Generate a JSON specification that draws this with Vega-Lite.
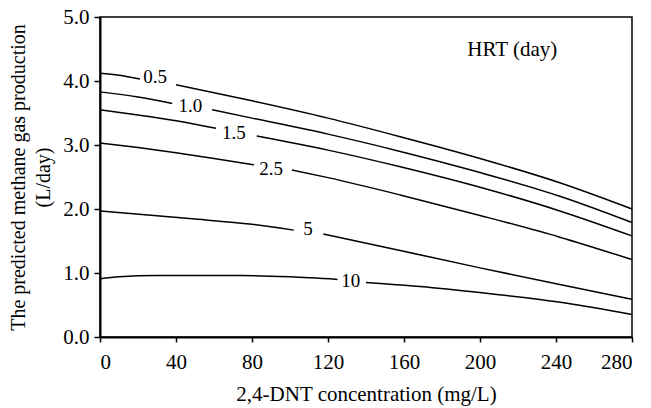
{
  "$schema": "https://vega.github.io/schema/vega-lite/v6.json",
  "width": 532,
  "height": 320,
  "autosize": "none",
  "padding": {"left": 100, "top": 17, "right": 19, "bottom": 71},
  "background": "white",
  "config": {
    "font": "Liberation Serif",
    "view": {"stroke": "black", "strokeWidth": 1.5},
    "axis": {
      "domainColor": "black", "domainWidth": 2, "tickColor": "black", "tickWidth": 1.5,
      "labelColor": "black", "titleColor": "black", "labelFont": "Liberation Serif",
      "titleFont": "Liberation Serif", "labelFontSize": 21, "titleFontSize": 21,
      "titleFontWeight": "normal", "grid": false
    }
  },
  "datasets": {
    "curves": [
      {"hrt": "0.5", "seg": "0.5a", "x": 0, "y": 4.12},
      {"hrt": "0.5", "seg": "0.5a", "x": 10, "y": 4.09},
      {"hrt": "0.5", "seg": "0.5a", "x": 21, "y": 4.03},
      {"hrt": "0.5", "seg": "0.5b", "x": 40, "y": 3.94},
      {"hrt": "0.5", "seg": "0.5b", "x": 80, "y": 3.69},
      {"hrt": "0.5", "seg": "0.5b", "x": 120, "y": 3.42},
      {"hrt": "0.5", "seg": "0.5b", "x": 158, "y": 3.13},
      {"hrt": "0.5", "seg": "0.5b", "x": 200, "y": 2.79},
      {"hrt": "0.5", "seg": "0.5b", "x": 242, "y": 2.41},
      {"hrt": "0.5", "seg": "0.5b", "x": 280, "y": 2.0},
      {"hrt": "1.0", "seg": "1.0a", "x": 0, "y": 3.83},
      {"hrt": "1.0", "seg": "1.0a", "x": 20, "y": 3.75},
      {"hrt": "1.0", "seg": "1.0a", "x": 38, "y": 3.65},
      {"hrt": "1.0", "seg": "1.0b", "x": 59, "y": 3.55},
      {"hrt": "1.0", "seg": "1.0b", "x": 80, "y": 3.42},
      {"hrt": "1.0", "seg": "1.0b", "x": 120, "y": 3.17},
      {"hrt": "1.0", "seg": "1.0b", "x": 158, "y": 2.9},
      {"hrt": "1.0", "seg": "1.0b", "x": 200, "y": 2.57},
      {"hrt": "1.0", "seg": "1.0b", "x": 242, "y": 2.2},
      {"hrt": "1.0", "seg": "1.0b", "x": 280, "y": 1.79},
      {"hrt": "1.5", "seg": "1.5a", "x": 0, "y": 3.55},
      {"hrt": "1.5", "seg": "1.5a", "x": 20, "y": 3.47},
      {"hrt": "1.5", "seg": "1.5a", "x": 40, "y": 3.38},
      {"hrt": "1.5", "seg": "1.5a", "x": 61, "y": 3.26},
      {"hrt": "1.5", "seg": "1.5b", "x": 82.5, "y": 3.14},
      {"hrt": "1.5", "seg": "1.5b", "x": 120, "y": 2.92},
      {"hrt": "1.5", "seg": "1.5b", "x": 158, "y": 2.66},
      {"hrt": "1.5", "seg": "1.5b", "x": 200, "y": 2.34},
      {"hrt": "1.5", "seg": "1.5b", "x": 242, "y": 1.97},
      {"hrt": "1.5", "seg": "1.5b", "x": 280, "y": 1.58},
      {"hrt": "2.5", "seg": "2.5a", "x": 0, "y": 3.03},
      {"hrt": "2.5", "seg": "2.5a", "x": 20, "y": 2.96},
      {"hrt": "2.5", "seg": "2.5a", "x": 40, "y": 2.88},
      {"hrt": "2.5", "seg": "2.5a", "x": 60, "y": 2.79},
      {"hrt": "2.5", "seg": "2.5a", "x": 81, "y": 2.69},
      {"hrt": "2.5", "seg": "2.5b", "x": 101, "y": 2.61},
      {"hrt": "2.5", "seg": "2.5b", "x": 120, "y": 2.49},
      {"hrt": "2.5", "seg": "2.5b", "x": 158, "y": 2.22},
      {"hrt": "2.5", "seg": "2.5b", "x": 200, "y": 1.9},
      {"hrt": "2.5", "seg": "2.5b", "x": 242, "y": 1.56},
      {"hrt": "2.5", "seg": "2.5b", "x": 280, "y": 1.21},
      {"hrt": "5", "seg": "5a", "x": 0, "y": 1.97},
      {"hrt": "5", "seg": "5a", "x": 47, "y": 1.85},
      {"hrt": "5", "seg": "5a", "x": 80, "y": 1.76},
      {"hrt": "5", "seg": "5a", "x": 102, "y": 1.67},
      {"hrt": "5", "seg": "5b", "x": 117.5, "y": 1.61},
      {"hrt": "5", "seg": "5b", "x": 158, "y": 1.35},
      {"hrt": "5", "seg": "5b", "x": 200, "y": 1.08},
      {"hrt": "5", "seg": "5b", "x": 242, "y": 0.82},
      {"hrt": "5", "seg": "5b", "x": 280, "y": 0.59},
      {"hrt": "10", "seg": "10a", "x": 0, "y": 0.91},
      {"hrt": "10", "seg": "10a", "x": 10, "y": 0.94},
      {"hrt": "10", "seg": "10a", "x": 30, "y": 0.96},
      {"hrt": "10", "seg": "10a", "x": 74, "y": 0.96},
      {"hrt": "10", "seg": "10a", "x": 100, "y": 0.94},
      {"hrt": "10", "seg": "10a", "x": 125, "y": 0.9},
      {"hrt": "10", "seg": "10b", "x": 140, "y": 0.85},
      {"hrt": "10", "seg": "10b", "x": 175, "y": 0.77},
      {"hrt": "10", "seg": "10b", "x": 210, "y": 0.66},
      {"hrt": "10", "seg": "10b", "x": 245, "y": 0.53},
      {"hrt": "10", "seg": "10b", "x": 280, "y": 0.35}
    ],
    "labels": [
      {"text": "0.5", "x": 29, "y": 4.06},
      {"text": "1.0", "x": 47.5, "y": 3.61},
      {"text": "1.5", "x": 70.5, "y": 3.19},
      {"text": "2.5", "x": 90, "y": 2.63},
      {"text": "5", "x": 109.5, "y": 1.68},
      {"text": "10", "x": 132, "y": 0.875}
    ],
    "notes": [
      {"text": "HRT (day)", "x": 217, "y": 4.48}
    ]
  },
  "layer": [
    {
      "data": {"name": "curves"},
      "mark": {"type": "line", "color": "black", "strokeWidth": 1.5, "interpolate": "monotone"},
      "encoding": {
        "x": {"field": "x", "type": "quantitative", "scale": {"domain": [0, 280], "nice": false},
          "axis": {"values": [0, 40, 80, 120, 160, 200, 240, 280], "title": "2,4-DNT concentration (mg/L)",
            "tickSize": 5, "labelPadding": 9, "titlePadding": 11}},
        "y": {"field": "y", "type": "quantitative", "scale": {"domain": [0, 5]},
          "axis": {"values": [0, 1, 2, 3, 4, 5], "format": ".1f",
            "title": ["The predicted methane gas production", "(L/day)"],
            "titleFontSize": 20,
            "tickSize": 6, "labelPadding": 5, "titlePadding": 9, "titleLineHeight": 25}},
        "detail": {"field": "seg"}
      }
    },
    {
      "data": {"name": "labels"},
      "mark": {"type": "text", "font": "Liberation Serif", "fontSize": 19, "color": "black", "baseline": "middle", "align": "center"},
      "encoding": {
        "x": {"field": "x", "type": "quantitative"},
        "y": {"field": "y", "type": "quantitative"},
        "text": {"field": "text"}
      }
    },
    {
      "data": {"name": "notes"},
      "mark": {"type": "text", "font": "Liberation Serif", "fontSize": 21, "color": "black", "baseline": "middle", "align": "center"},
      "encoding": {
        "x": {"field": "x", "type": "quantitative"},
        "y": {"field": "y", "type": "quantitative"},
        "text": {"field": "text"}
      }
    }
  ]
}
